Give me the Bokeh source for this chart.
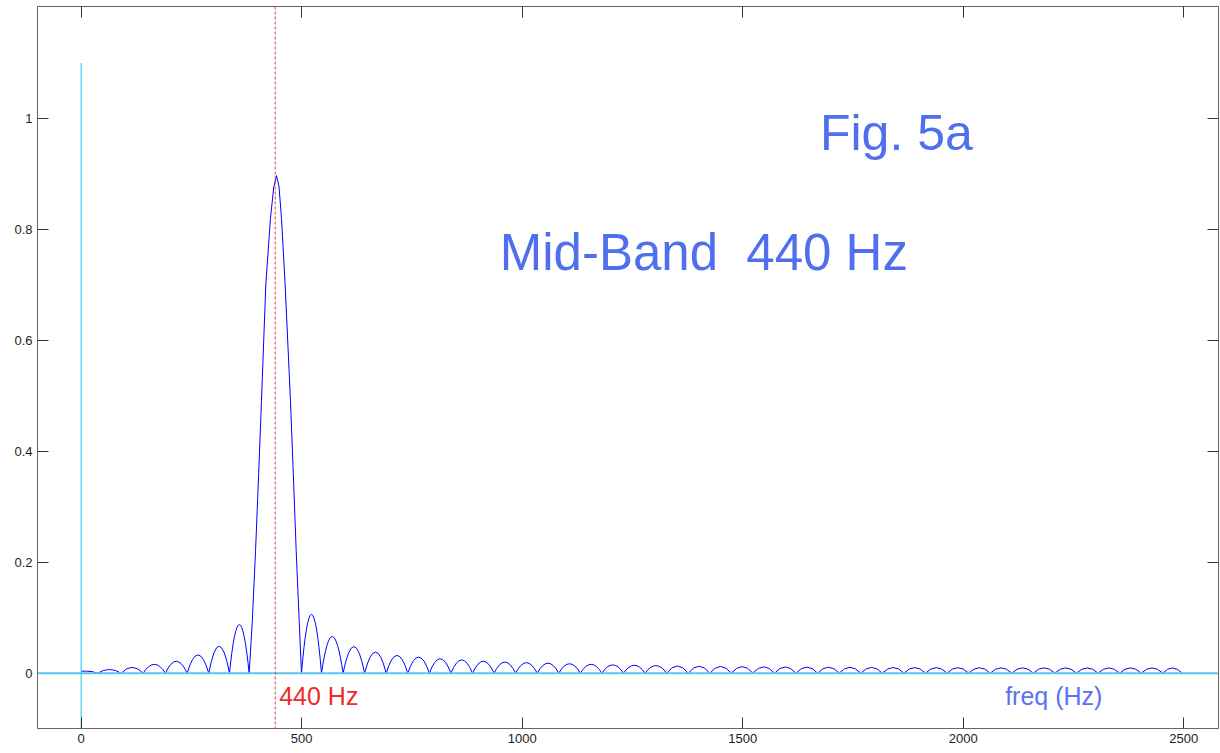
from bokeh.plotting import figure
from bokeh.models import (Range1d, LinearAxis, FixedTicker, Span, CustomJSTickFormatter,
                          ColumnDataSource, Label)
from bokeh.embed import file_html
from bokeh.resources import INLINE

# ---------------- data ----------------
x_ticks = [0, 500, 1000, 1500, 2000, 2500]
y_ticks = [0, 0.2, 0.4, 0.6, 0.8, 1.0]

# start of the spectrum (0 Hz up to the first zero)
start_freq = [0.0, 12.0, 25.0, 37.6]
start_amp = [0.0036, 0.0037, 0.0028, 0.0]

# main lobe around 440 Hz
main_freq = [380.9, 387.7, 395.4, 402.5, 408.8, 418.6, 429.2, 436.5, 442.8,
             448.5, 454.2, 462.5, 474.6, 481.0, 487.5, 494.3, 499.5]
main_amp = [0.0, 0.089, 0.221, 0.36, 0.49, 0.70, 0.82, 0.875, 0.897,
            0.878, 0.82, 0.70, 0.49, 0.36, 0.221, 0.095, 0.0]

# side lobes below the main lobe: zero crossings and lobe peaks
left_zeros = [37.6, 90.7, 140.6, 191.1, 240.3, 289.3, 336.3, 380.9]
left_peaks = [0.0067, 0.0105, 0.016, 0.0214, 0.033, 0.0487, 0.0875]

# side lobes above the main lobe: zero crossings and lobe peaks
right_zeros = [499.5, 544.9, 593.8, 642.7, 691.6, 740.5, 789.5, 838.4, 887.3, 936.2,
               985.1, 1034.0, 1082.9, 1131.8, 1180.7, 1229.6, 1278.5, 1327.5, 1376.4,
               1425.3, 1474.2, 1523.1, 1572.0, 1620.9, 1669.8, 1718.7, 1767.6, 1816.5,
               1865.5, 1914.4, 1963.3, 2012.2, 2061.1, 2110.0, 2158.9, 2207.8, 2256.7,
               2305.6, 2354.5, 2403.5, 2452.4, 2496.4]
right_peaks = [0.106, 0.066, 0.048, 0.038, 0.032, 0.029, 0.026, 0.024, 0.0215, 0.020,
               0.019, 0.018, 0.017, 0.016, 0.015, 0.0143, 0.0136, 0.013, 0.0125, 0.0121,
               0.0118, 0.0115, 0.0112, 0.011, 0.0108, 0.0106, 0.0104, 0.0102, 0.0101,
               0.0100, 0.0099, 0.0098, 0.0097, 0.0096, 0.0096, 0.0095, 0.0095, 0.0095,
               0.0095, 0.0095, 0.0094]

tone_freq = 440
marker_x = 0
marker_y = [-0.1, 1.1]

# ---------------- figure ----------------
p = figure(width=1220, height=750, output_backend="svg", toolbar_location=None,
           x_range=Range1d(-99.0, 2578.7), y_range=Range1d(-0.0997, 1.2019),
           min_border_left=37, min_border_right=2, min_border_top=6, min_border_bottom=22)
p.grid.visible = False
p.outline_line_color = "#666666"
p.background_fill_color = "white"
p.border_fill_color = "white"

AX = "#666666"
TK = "#333333"
for ax in (p.xaxis[0], p.yaxis[0]):
    ax.major_tick_in = 11
    ax.major_tick_out = 0
    ax.minor_tick_in = 0
    ax.minor_tick_out = 0
    ax.axis_line_color = AX
    ax.major_tick_line_color = TK
    ax.major_label_text_font = "Liberation Sans"
    ax.major_label_text_font_size = "13px"
    ax.major_label_text_color = "#222222"

p.xaxis[0].ticker = FixedTicker(ticks=x_ticks)
p.xaxis[0].major_label_standoff = 5
p.yaxis[0].ticker = FixedTicker(ticks=y_ticks)
p.yaxis[0].major_label_standoff = 5
p.yaxis[0].formatter = CustomJSTickFormatter(code="return String(Number(tick.toFixed(1)));")

blank = CustomJSTickFormatter(code="return '';")
top = LinearAxis(ticker=FixedTicker(ticks=x_ticks), formatter=blank,
                 major_label_text_font_size="0px", major_label_standoff=0,
                 major_tick_in=11, major_tick_out=0, minor_tick_in=0, minor_tick_out=0,
                 axis_line_color=AX, major_tick_line_color=TK)
right = LinearAxis(ticker=FixedTicker(ticks=y_ticks), formatter=blank,
                   major_label_text_font_size="0px", major_label_standoff=0,
                   major_tick_in=11, major_tick_out=0, minor_tick_in=0, minor_tick_out=0,
                   axis_line_color=AX, major_tick_line_color=TK)
p.add_layout(top, "above")
p.add_layout(right, "right")

BLUE = "#0000FF"

# lobes drawn as quadratic arches between zero crossings
def lobe_source(zeros, peaks):
    x0 = zeros[:-1]
    x1 = zeros[1:]
    cx = [(a + b) / 2 for a, b in zip(x0, x1)]
    cy = [2 * h for h in peaks]
    return ColumnDataSource(dict(x0=x0, x1=x1, y0=[0] * len(x0), y1=[0] * len(x0), cx=cx, cy=cy))

for src in (lobe_source(left_zeros, left_peaks), lobe_source(right_zeros, right_peaks)):
    p.quadratic(x0="x0", y0="y0", x1="x1", y1="y1", cx="cx", cy="cy", source=src,
                line_color=BLUE, line_width=1)

p.line(start_freq, start_amp, line_color=BLUE, line_width=1)
p.line(main_freq, main_amp, line_color=BLUE, line_width=1)

# cyan reference lines
p.segment(x0=[marker_x], y0=[marker_y[0]], x1=[marker_x], y1=[marker_y[1]],
          line_color="#18C4F2", line_width=1)
p.add_layout(Span(location=0, dimension="width", line_color="#55C8F0", line_width=2))

# red dashed marker at 440 Hz
p.add_layout(Span(location=tone_freq, dimension="height", line_color="#F03C3C",
                  line_width=1, line_dash="3 2"))

# texts
p.add_layout(Label(x=1675, y=0.9747, text="Fig. 5a", text_font="Liberation Sans",
                   text_font_size="50px", text_color="#4F6FEE", text_baseline="alphabetic"))
p.add_layout(Label(x=949, y=0.7589, text="Mid-Band\u00a0 440 Hz", text_font="Liberation Sans",
                   text_font_size="51px", text_color="#4F6FEE", text_baseline="alphabetic"))
p.add_layout(Label(x=449, y=-0.0420, text="440 Hz", text_font="Liberation Sans",
                   text_font_size="25px", text_color="#EE2A2A", text_baseline="alphabetic"))
p.add_layout(Label(x=2095, y=-0.0420, text="freq (Hz)", text_font="Liberation Sans",
                   text_font_size="25px", text_color="#5C72EE", text_baseline="alphabetic"))

open("out.html", "w").write(file_html(p, INLINE))
